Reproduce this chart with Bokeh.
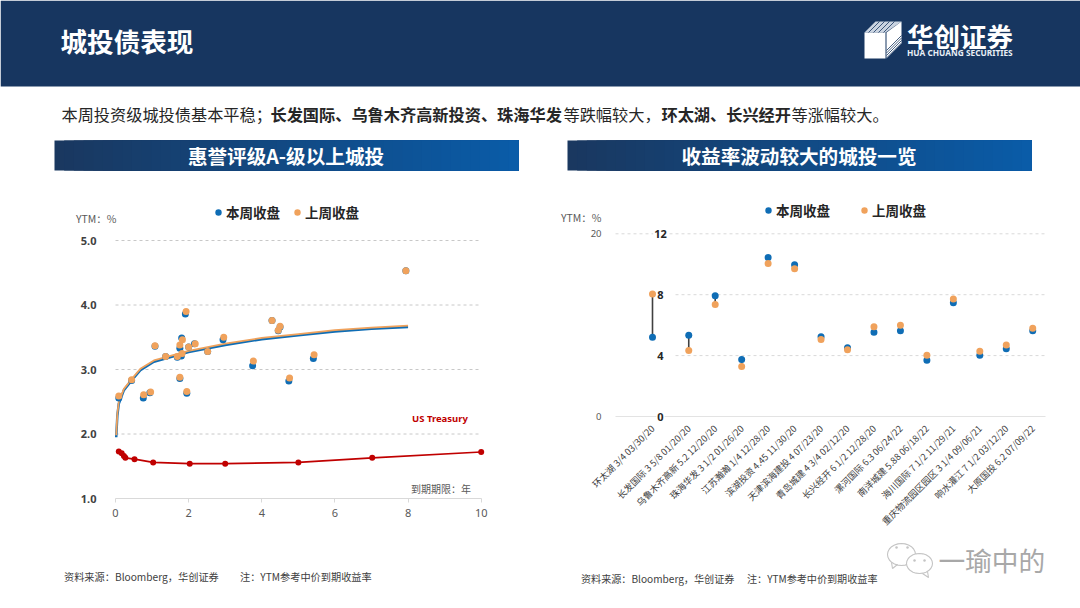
import math
from bokeh.plotting import figure
from bokeh.layouts import column, row
from bokeh.models import Label, Legend, LegendItem, Range1d, FixedTicker
from bokeh.embed import file_html
from bokeh.resources import INLINE

CJK = "Noto Sans CJK SC"
BLUE = "#0f6db5"
ORANGE = "#f0a25c"
RED = "#c00000"

# ---------- left chart data ----------
week_x = [0.09,0.44,0.76,0.94,1.08,1.37,1.69,1.76,1.81,1.76,1.91,1.95,1.80,2.00,2.16,2.52,2.94,3.75,4.28,4.45,4.50,4.74,5.41,7.94]
week_y = [2.56,2.83,2.56,2.64,3.36,3.20,3.19,3.33,3.49,2.86,3.86,2.63,3.21,3.35,3.40,3.28,3.46,3.06,3.76,3.60,3.66,2.82,3.17,4.53]
last_x = [0.09,0.44,0.77,0.96,1.08,1.37,1.69,1.76,1.83,1.76,1.93,1.95,1.82,2.00,2.18,2.52,2.96,3.77,4.28,4.45,4.50,4.76,5.43,7.94]
last_y = [2.59,2.84,2.61,2.65,3.37,3.20,3.20,3.38,3.46,2.88,3.90,2.66,3.25,3.35,3.40,3.28,3.50,3.13,3.76,3.61,3.67,2.87,3.23,4.53]
curve_x = [0.02,0.05,0.09,0.23,0.44,0.68,1.05,2,3,4,5,6,7,8]
curve_week = [1.95,2.28,2.47,2.68,2.83,2.99,3.12,3.27,3.38,3.47,3.53,3.59,3.63,3.66]
curve_last = [1.98,2.31,2.50,2.70,2.85,3.01,3.14,3.29,3.40,3.49,3.55,3.61,3.65,3.68]
ust_x = [0.09,0.17,0.23,0.27,0.52,1.03,2.03,3.0,5.0,7.02,10.0]
ust_y = [1.73,1.70,1.66,1.63,1.61,1.56,1.54,1.54,1.56,1.63,1.72]
left_yticks = [1,2,3,4,5]
left_xticks = [0,2,4,6,8,10]

# ---------- right chart data ----------
bonds = ["环太湖 3/4 03/30/20","长发国际 3 5/8 01/20/20","乌鲁木齐高新 5.2 12/20/20","珠海华发 3 1/2 01/26/20",
         "江苏瀚瀚 1/4 12/28/20","滨湖投资 4.45 11/30/20","天津滨海建投 4 07/23/20","青岛城建 4 3/4 02/12/20",
         "长兴经开 6 1/2 12/28/20","漯河国际 6.3 06/24/22","南洋城建 5.88 06/18/22","海川国际 7 1/2 11/29/21",
         "重庆物流园区园区 3 1/4 09/06/21","响水灌江 7 1/2 03/12/20","大原国投 6.2 07/09/22"]
bond_pos = [1,2.37,3.37,4.37,5.37,6.37,7.37,8.37,9.37,10.37,11.37,12.37,13.37,14.37,15.37]
bond_week = [5.21,5.34,7.93,3.74,10.44,9.96,5.23,4.51,5.54,5.63,3.70,7.47,4.03,4.45,5.63]
bond_last = [8.04,4.34,7.36,3.28,10.05,9.70,5.06,4.38,5.89,6.00,4.03,7.71,4.29,4.69,5.80]

def bare(p):
    p.toolbar.logo = None
    p.outline_line_color = None
    p.background_fill_color = "white"
    p.border_fill_color = "white"

def put(p, x, y, s, size, color="#262626", bold=False, align="left", font=CJK):
    p.add_layout(Label(x=x, y=y, text=s, text_font=font, text_font_size=f"{size}px", text_color=color,
                       text_font_style="bold" if bold else "normal", text_align=align, text_baseline="middle",
                       x_offset=-1.5, y_offset=1.5))

# ---------- top band: coordinates are page pixels ----------
top = figure(width=1080, height=172, x_range=Range1d(0, 1080), y_range=Range1d(172, 0),
             output_backend="svg", toolbar_location=None, min_border=0)
bare(top)
top.axis.visible = False
top.grid.visible = False
top.quad(left=0, right=1080, top=0, bottom=86, fill_color="#173660", line_color=None)
put(top, 61.5, 41, "城投债表现", 26.6, "white", True)

top.patch([864, 875, 901, 885], [32, 21, 21, 32], fill_color="#c9d3e0", line_color=None)
top.patch([864, 885, 885, 864], [32, 32, 58, 58], fill_color="white", line_color=None)
top.patch([886, 901, 901, 886], [32, 21, 43, 58], fill_color="white", line_color=None)
for k in range(4):
    top.line([868 + k * 5, 879 + k * 5], [32, 21], line_color="#173660", line_width=0.8)
    top.line([886, 901], [50 + k * 2.5, 35 + k * 2.5], line_color="#173660", line_width=0.8)
put(top, 908, 36.5, "华创证券", 26.5, "white", True)
put(top, 908, 53.5, "HUA CHUANG SECURITIES", 8.3, "#e8eef5", True, font="Noto Sans")

runs = [(62.5, "本周投资级城投债基本平稳；", False), (271.5, "长发国际、乌鲁木齐高新投资、珠海华发", True),
        (564.5, "等跌幅较大，", False), (662.5, "环太湖、长兴经开", True), (792.5, "等涨幅较大。", False)]
for x, s, b in runs:
    put(top, x, 114.5, s, 16.2, "#262626", b)

def bar(p, x0, x1, title):
    n = 48
    for i in range(n):
        t = i / (n - 1)
        c = (int(26 - 16 * t), int(56 + 36 * t), int(96 + 72 * t))
        p.quad(left=x0 + (x1 - x0) * i / n, right=x1, top=140, bottom=170,
               fill_color="#%02x%02x%02x" % c, line_color=None)
    put(p, (x0 + x1) / 2 + 1, 156, title, 19.6, "white", True, "center")

bar(top, 54, 518, "惠誉评级A-级以上城投")
bar(top, 567, 1031, "收益率波动较大的城投一览")

# ---------- left chart ----------
def lx(px): return (px - 115) / 36.57
def ly(py): return 1 + (498 - py) / 64.5

lp = figure(width=540, height=436, x_range=Range1d(lx(0), lx(540)), y_range=Range1d(ly(608), ly(172)),
            output_backend="svg", toolbar_location=None, min_border=0)
bare(lp)
lp.grid.visible = False
lp.yaxis.fixed_location = 0
lp.yaxis.bounds = (1, 5)
lp.yaxis.ticker = FixedTicker(ticks=left_yticks)
lp.yaxis.major_label_overrides = {v: f"{v:.1f}" for v in left_yticks}
lp.yaxis.axis_line_color = None
lp.yaxis.major_tick_line_color = None
lp.yaxis.minor_tick_line_color = None
lp.yaxis.major_label_text_font_size = "11px"
lp.yaxis.major_label_text_font_style = "bold"
lp.yaxis.major_label_text_color = "#404040"
lp.yaxis.major_label_text_font = "Noto Sans"
lp.yaxis.major_label_standoff = 13
lp.xaxis.fixed_location = 1
lp.xaxis.ticker = FixedTicker(ticks=left_xticks)
lp.xaxis.bounds = (0, 10)
lp.xaxis.axis_line_color = "#d9d9d9"
lp.xaxis.major_tick_line_color = "#d9d9d9"
lp.xaxis.major_tick_in = 0
lp.xaxis.major_tick_out = 4
lp.xaxis.minor_tick_line_color = None
lp.xaxis.major_label_text_font_size = "11px"
lp.xaxis.major_label_text_color = "#595959"
lp.xaxis.major_label_text_font = "Noto Sans"
lp.xaxis.major_label_standoff = 6

for lvl in left_yticks[1:]:
    lp.segment(0, lvl, 10, lvl, line_color="#c8c8c8", line_dash="3 3", line_width=1)

lp.line(curve_x, curve_week, line_color=BLUE, line_width=2.5)
lp.line(curve_x, curve_last, line_color=ORANGE, line_width=1.8)
r1 = lp.scatter(week_x, week_y, size=7, fill_color=BLUE, line_color=None)
r2 = lp.scatter(last_x, last_y, size=7, fill_color=ORANGE, line_color=None)
lp.line(ust_x, ust_y, line_color=RED, line_width=1.6)
lp.scatter(ust_x, ust_y, size=6, fill_color=RED, line_color=None)

put(lp, lx(77), ly(219), "YTM：%", 10.5, "#595959")
put(lp, lx(413), ly(419), "US Treasury", 9.5, RED, True, font="Noto Sans")
put(lp, lx(412), ly(489), "到期期限：年", 10, "#595959")
put(lp, lx(65), ly(577), "资料来源：Bloomberg，华创证券", 10.2, "#404040")
put(lp, lx(241), ly(577), "注：YTM参考中价到期收益率", 10.2, "#404040")

def legend(p, rs, loc, spacing):
    leg = Legend(items=[LegendItem(label="本周收盘", renderers=[rs[0]]), LegendItem(label="上周收盘", renderers=[rs[1]])],
                 orientation="horizontal", location=loc, spacing=spacing, padding=0, margin=0,
                 border_line_color=None, background_fill_alpha=0, glyph_width=16, glyph_height=16,
                 label_standoff=0, label_text_font=CJK, label_text_font_size="13.5px",
                 label_text_font_style="bold", label_text_color="#262626")
    p.add_layout(leg, "center")

legend(lp, (r1, r2), (210, 386), 9)

# ---------- right chart ----------
def rx(px): return 1 + (px - 652) / 26.46
def ry(py): return (416 - py) / 15.225

rp = figure(width=540, height=436, x_range=Range1d(rx(540), rx(1080)), y_range=Range1d(ry(608), ry(172)),
            output_backend="svg", toolbar_location=None, min_border=0)
bare(rp)
rp.grid.visible = False
rp.yaxis.fixed_location = rx(615)
rp.yaxis.ticker = FixedTicker(ticks=[0, 12])
rp.yaxis.major_label_overrides = {0: "0", 12: "20"}
rp.yaxis.axis_line_color = None
rp.yaxis.major_tick_line_color = None
rp.yaxis.minor_tick_line_color = None
rp.yaxis.major_label_text_font_size = "9.5px"
rp.yaxis.major_label_text_color = "#595959"
rp.yaxis.major_label_text_font = "Noto Sans"
rp.yaxis.major_label_standoff = 8
rp.xaxis.fixed_location = 0
rp.xaxis.bounds = (rx(615), rx(1045))
rp.xaxis.ticker = FixedTicker(ticks=bond_pos)
rp.xaxis.major_label_overrides = dict(zip(bond_pos, bonds))
rp.xaxis.major_label_orientation = math.pi / 4
rp.xaxis.axis_line_color = "#e3e3e3"
rp.xaxis.major_tick_line_color = None
rp.xaxis.minor_tick_line_color = None
rp.xaxis.major_label_text_font_size = "9.2px"
rp.xaxis.major_label_text_color = "#404040"
rp.xaxis.major_label_text_font = CJK
rp.xaxis.major_label_standoff = 4

rp.segment(rx(615), 12, rx(1045), 12, line_color="#d9d9d9", line_dash="3 3", line_width=1)
for lvl in (4, 8):
    rp.segment(rx(675), lvl, rx(1045), lvl, line_color="#d9d9d9", line_dash="3 3", line_width=1)
rp.segment(bond_pos, bond_week, bond_pos, bond_last, line_color="#404040", line_width=1.6)
r3 = rp.scatter(bond_pos, bond_week, size=7, fill_color=BLUE, line_color=None)
r4 = rp.scatter(bond_pos, bond_last, size=7, fill_color=ORANGE, line_color=None)

for v in (0, 4, 8, 12):
    rp.add_layout(Label(x=rx(660), y=v, text=str(v), text_font="Noto Sans", text_font_size="11px",
                        text_font_style="bold", text_color="#262626", text_align="center",
                        text_baseline="middle", background_fill_color="white", padding=1))

put(rp, rx(562), ry(218), "YTM：%", 10.5, "#595959")
put(rp, rx(582), ry(579), "资料来源：Bloomberg，华创证券", 10.1, "#404040")
put(rp, rx(748), ry(579), "注：YTM参考中价到期收益率", 10.1, "#404040")
legend(rp, (r3, r4), (220, 388), 26)

def bubble(cx, cy, a, b):
    xs = [rx(cx + a * math.cos(t / 24 * 2 * math.pi)) for t in range(25)]
    ys = [ry(cy + b * math.sin(t / 24 * 2 * math.pi)) for t in range(25)]
    rp.patch(xs, ys, fill_color="white", line_color="#c4c4c4", line_width=1.1)

bubble(901, 554, 14, 11)
rp.line([rx(891), rx(892), rx(897)], [ry(562), ry(568), ry(564)], line_color="#c4c4c4", line_width=1.1)
bubble(919, 563, 13, 10)
rp.line([rx(927), rx(928), rx(922)], [ry(571), ry(577), ry(573)], line_color="#c4c4c4", line_width=1.1)
rp.scatter([rx(896), rx(907), rx(914), rx(924)], [ry(547), ry(547), ry(560), ry(560)],
           size=2.5, fill_color="#c4c4c4", line_color=None)
put(rp, rx(939.5), ry(560), "一瑜中的", 26.7, "#a8a8a8")

page = column(top, row(lp, rp, spacing=0), spacing=0)
open("out.html", "w").write(file_html(page, INLINE))
